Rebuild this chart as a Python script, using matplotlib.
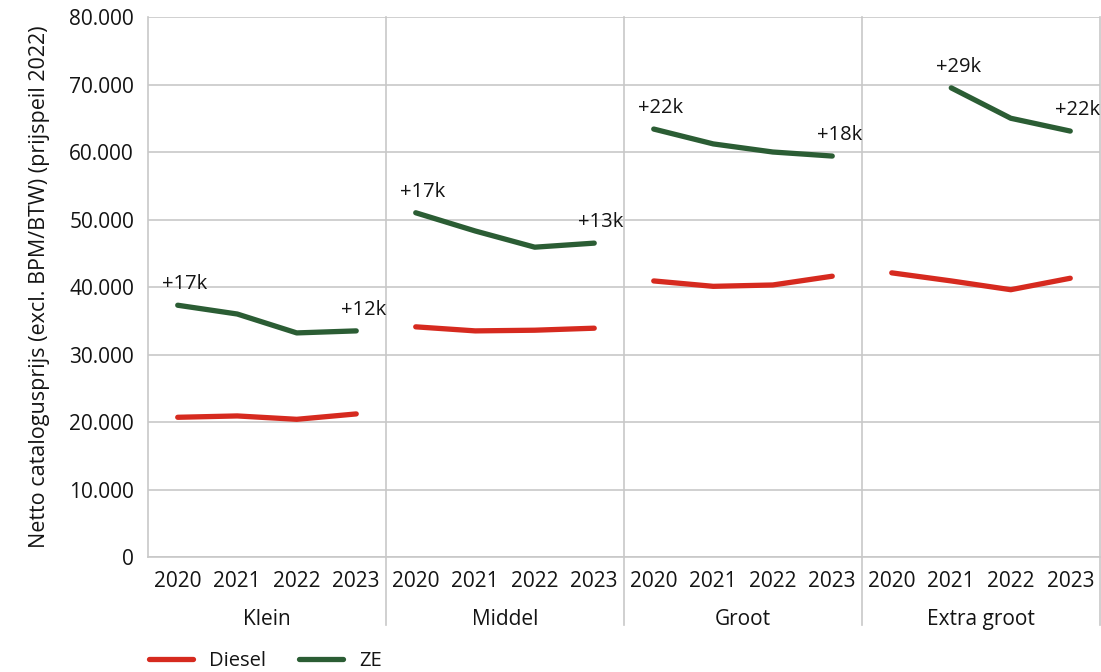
import matplotlib.pyplot as plt
from matplotlib.ticker import FuncFormatter
from matplotlib.transforms import blended_transform_factory

plt.rcParams['font.family'] = ['Open Sans', 'DejaVu Sans']

groups = ['Klein', 'Middel', 'Groot', 'Extra groot']
years = ['2020', '2021', '2022', '2023']

diesel = {
    'Klein': [20700, 20900, 20400, 21200],
    'Middel': [34100, 33500, 33600, 33900],
    'Groot': [40900, 40100, 40300, 41600],
    'Extra groot': [42100, 40900, 39600, 41300],
}
ze = {
    'Klein': [37300, 36000, 33200, 33500],
    'Middel': [51000, 48300, 45900, 46500],
    'Groot': [63400, 61200, 60000, 59400],
    'Extra groot': [None, 69500, 65000, 63100],
}
# labels: (group, year index, text)
labels = [
    ('Klein', 0, '+17k'), ('Klein', 3, '+12k'),
    ('Middel', 0, '+17k'), ('Middel', 3, '+13k'),
    ('Groot', 0, '+22k'), ('Groot', 3, '+18k'),
    ('Extra groot', 1, '+29k'), ('Extra groot', 3, '+22k'),
]

red = '#d62a1f'
green = '#2b5d34'
grid = '#c8c8c8'
txt = '#141414'

fig = plt.figure(figsize=(11.01, 6.72), dpi=100)
ax = fig.add_axes([0.1344, 0.1711, 0.8647, 0.8036])

n = len(years)
for gi, g in enumerate(groups):
    xs = [gi * n + i for i in range(n)]
    ax.plot(xs, diesel[g], color=red, lw=3.8, solid_capstyle='round',
            label='Diesel' if gi == 0 else None)
    pts = [(x, v) for x, v in zip(xs, ze[g]) if v is not None]
    ax.plot([p[0] for p in pts], [p[1] for p in pts], color=green, lw=3.8,
            solid_capstyle='round', label='ZE' if gi == 0 else None)

for g, i, t in labels:
    gi = groups.index(g)
    ax.annotate(t, (gi * n + i, ze[g][i]), xytext=(5, 8), textcoords='offset points',
                ha='center', va='bottom', fontsize=14.5, color=txt)

ax.set_xlim(-0.5, len(groups) * n - 0.5)
ax.set_ylim(0, 80000)
ax.set_yticks(range(0, 80001, 10000))
ax.yaxis.set_major_formatter(FuncFormatter(lambda v, p: f'{int(v):,}'.replace(',', '.')))
ax.set_xticks(range(len(groups) * n))
ax.set_xticklabels(years * len(groups))
ax.tick_params(axis='both', length=0, labelsize=15, colors=txt)
ax.tick_params(axis='x', pad=10)
ax.tick_params(axis='y', pad=10)

ax.grid(axis='y', color=grid, lw=1.2)
ax.set_axisbelow(True)
for s in ['top', 'right']:
    ax.spines[s].set_visible(False)
ax.spines['left'].set_color(grid)
ax.spines['bottom'].set_color(grid)
ax.spines['left'].set_linewidth(1.2)
ax.spines['bottom'].set_linewidth(1.2)

# group separators, extending below the axis
trans = blended_transform_factory(ax.transData, ax.transAxes)
for gi in range(1, len(groups) + 1):
    ax.plot([gi * n - 0.5] * 2, [-0.125, 1], color=grid, lw=1.2,
            transform=trans, clip_on=False, zorder=0)
for gi, g in enumerate(groups):
    ax.text(gi * n + (n - 1) / 2, -0.115, g, transform=trans, ha='center',
            va='center', fontsize=15, color=txt)

ax.set_ylabel('Netto catalogusprijs (excl. BPM/BTW) (prijspeil 2022)',
              fontsize=15.5, color=txt, labelpad=14)

ax.legend(loc='lower left', bbox_to_anchor=(-0.018, -0.245), ncol=2, frameon=False,
          fontsize=14.5, handlelength=2.2, columnspacing=1.6, labelcolor=txt)

plt.savefig('out.png', dpi=100)
